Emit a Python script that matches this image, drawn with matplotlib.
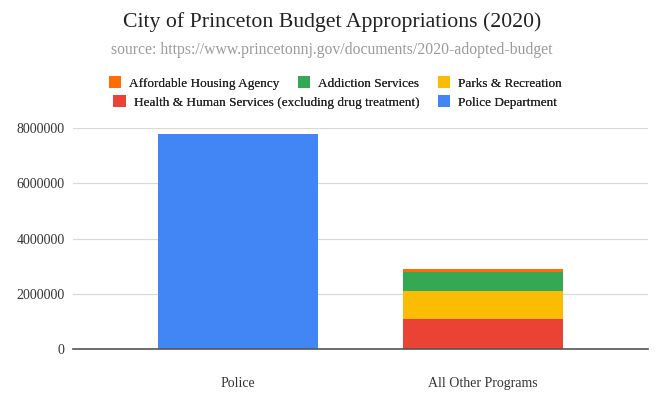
import matplotlib
matplotlib.use("Agg")
import matplotlib.pyplot as plt
from matplotlib.patches import Patch

plt.rcParams['font.family'] = ['Liberation Serif', 'DejaVu Serif']

categories = ["Police", "All Other Programs"]
series_names = ["Health & Human Services (excluding drug treatment)",
                "Parks & Recreation", "Addiction Services",
                "Affordable Housing Agency", "Police Department"]
health = [0, 1080000]
parks = [0, 1010000]
addiction = [0, 700000]
housing = [0, 100000]
police = [7760000, 0]
yticks = [0, 2000000, 4000000, 6000000, 8000000]

colors = {
    "Health & Human Services (excluding drug treatment)": "#EA4335",
    "Parks & Recreation": "#FBBC04",
    "Addiction Services": "#34A853",
    "Affordable Housing Agency": "#FF6D01",
    "Police Department": "#4285F4",
}

fig = plt.figure(figsize=(6.64, 4.05), dpi=100)
ax = fig.add_axes([73/664, (405-349.3)/405, (648-73)/664, (349.3-127.7)/405])

x = list(range(len(categories)))
w = 0.65
bottom = [0, 0]
for name, vals in zip(series_names, [health, parks, addiction, housing, police]):
    ax.bar(x, vals, w, bottom=bottom, color=colors[name], zorder=3, label=name)
    bottom = [bb + v for bb, v in zip(bottom, vals)]

ax.set_xlim(-0.673, 1.673)
ax.set_ylim(0, 8000000)
ax.set_yticks(yticks)
ax.set_yticklabels([str(v) for v in yticks])
ax.set_xticks(x)
ax.set_xticklabels(categories)
ax.grid(axis='y', color='#d9d9d9', linewidth=0.9, zorder=0)
for s in ['top', 'right', 'left']:
    ax.spines[s].set_visible(False)
ax.spines['bottom'].set_color('#555555')
ax.spines['bottom'].set_linewidth(1.2)
ax.spines['bottom'].set_zorder(4)
ax.tick_params(axis='both', length=0, labelsize=10, colors='#333333')
ax.tick_params(axis='y', pad=6)
ax.tick_params(axis='x', pad=20)

fig.text(0.5, 1 - 22/405, "City of Princeton Budget Appropriations (2020)",
         ha='center', va='center', fontsize=15.7, color='#222222')
fig.text(0.5, 1 - 50/405, "source: https://www.princetonnj.gov/documents/2020-adopted-budget",
         ha='center', va='center', fontsize=11.3, color='#9a9a9a')

row1 = ["Affordable Housing Agency", "Addiction Services", "Parks & Recreation"]
row2 = ["Health & Human Services (excluding drug treatment)", "Police Department"]
for row, yc in [(row1, 83), (row2, 102)]:
    hs = [Patch(facecolor=colors[n], edgecolor='none') for n in row]
    leg = fig.legend(hs, row, loc='center', bbox_to_anchor=(0.505, 1 - yc/405),
                     ncol=len(row), frameon=False, fontsize=9.5,
                     handlelength=0.95, handleheight=0.95, handletextpad=0.6,
                     columnspacing=1.4, borderpad=0, borderaxespad=0)
    for t in leg.get_texts():
        t.set_color('#222222')
    fig.add_artist(leg)

fig.savefig("out.png", dpi=100)
